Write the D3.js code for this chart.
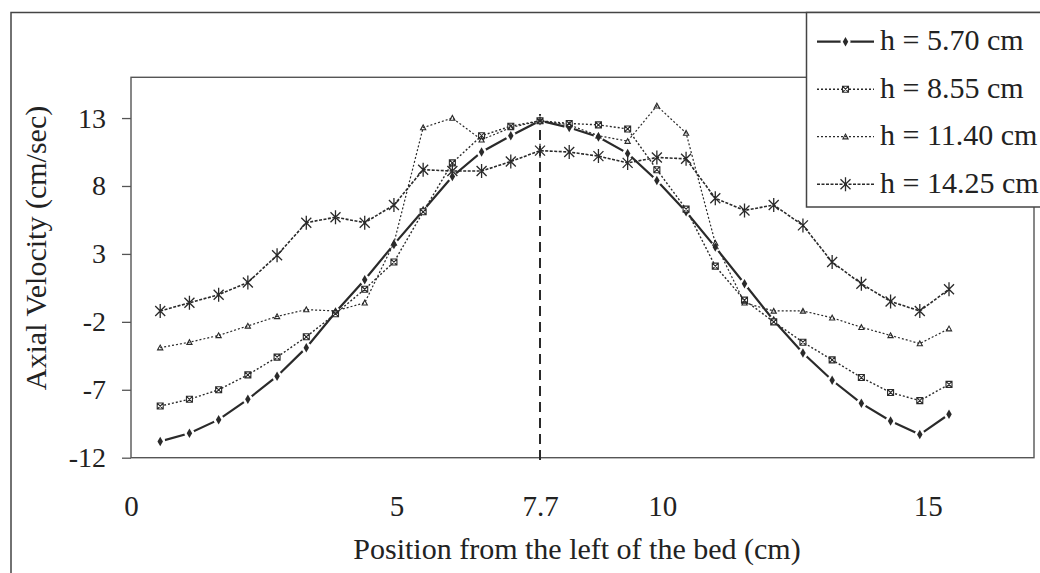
<!DOCTYPE html>
<html>
<head>
<meta charset="utf-8">
<script src="https://cdn.jsdelivr.net/npm/d3@7"></script>
<style>
  body { margin: 0; background: #fff; }
  svg text { font-family: "Liberation Serif", "Times New Roman", serif; fill: #222; }
</style>
</head>
<body>
<div id="chart"></div>
<script>
// positions across the bed (cm)
const positions = [0.55, 1.1, 1.65, 2.2, 2.75, 3.3, 3.85, 4.4, 4.95, 5.5, 6.05, 6.6, 7.15, 7.7,
                   8.25, 8.8, 9.35, 9.9, 10.45, 11, 11.55, 12.1, 12.65, 13.2, 13.75, 14.3, 14.85, 15.4];

// axial velocity (cm/sec) for each height
const h570 = [-10.8, -10.2, -9.2, -7.7, -6.0, -3.9, -1.3, 1.1, 3.7, 6.2, 8.7, 10.5, 11.7, 12.8,
              12.3, 11.6, 10.4, 8.4, 6.1, 3.5, 0.8, -1.9, -4.3, -6.3, -8.0, -9.3, -10.3, -8.8];
const h855 = [-8.2, -7.7, -7.0, -5.9, -4.6, -3.1, -1.4, 0.4, 2.4, 6.1, 9.7, 11.7, 12.4, 12.8,
              12.6, 12.5, 12.2, 9.2, 6.3, 2.1, -0.4, -2.0, -3.5, -4.8, -6.1, -7.2, -7.8, -6.6];
const h1140 = [-3.9, -3.5, -3.0, -2.3, -1.6, -1.1, -1.2, -0.6, 3.8, 12.3, 13.0, 11.4, 12.3, 12.8,
               12.5, 11.7, 11.3, 13.9, 11.9, 3.8, -0.6, -1.2, -1.2, -1.7, -2.4, -3.0, -3.6, -2.5];
const h1425 = [-1.2, -0.6, 0.0, 0.9, 2.9, 5.3, 5.7, 5.3, 6.6, 9.2, 9.1, 9.1, 9.8, 10.6,
               10.5, 10.2, 9.7, 10.1, 10.0, 7.1, 6.2, 6.6, 5.1, 2.4, 0.8, -0.5, -1.2, 0.4];

const seriesNames = ["h = 5.70 cm", "h = 8.55 cm", "h = 11.40 cm", "h = 14.25 cm"];
const seriesValues = [h570, h855, h1140, h1425];
const markerTypes = ["diamond", "boxX", "tri", "star"];

const yTicks = [-12, -7, -2, 3, 8, 13];
const xTicks = [0, 5, 7.7, 10, 15];
const centerLine = 7.7;

const width = 1040, height = 573;
const plotLeft = 131, plotRight = 1034, plotTop = 77.3, plotBottom = 457.7;
const ink = "#2a2a2a";

const svg = d3.select("#chart").append("svg")
    .attr("width", width)
    .attr("height", height);

const x = d3.scaleLinear().domain([0, 17]).range([plotLeft, plotRight]);
const y = d3.scaleLinear().domain([-12, 16]).range([plotBottom, plotTop]);

// outer chart border
svg.append("rect")
    .attr("x", 11).attr("y", 12.5)
    .attr("width", 1100).attr("height", 700)
    .attr("fill", "none").attr("stroke", "#444").attr("stroke-width", 1.5);

// plot frame
svg.append("rect")
    .attr("x", plotLeft).attr("y", plotTop)
    .attr("width", plotRight - plotLeft).attr("height", plotBottom - plotTop)
    .attr("fill", "none").attr("stroke", "#555").attr("stroke-width", 1.4);

// y axis
const yAxis = svg.append("g")
    .attr("transform", `translate(${plotLeft},0)`)
    .call(d3.axisLeft(y).tickValues(yTicks).tickSize(9).tickPadding(16).tickFormat(d => String(d)));
yAxis.select(".domain").remove();
yAxis.selectAll("line").attr("stroke", "#555").attr("stroke-width", 1.3);
yAxis.selectAll("text").style("font-size", "28px").attr("fill", "#222");

// x axis (labels only)
const xAxis = svg.append("g")
    .attr("transform", `translate(0,${plotBottom})`)
    .call(d3.axisBottom(x).tickValues(xTicks).tickSize(0).tickPadding(38).tickFormat(d => String(d)));
xAxis.select(".domain").remove();
xAxis.selectAll("text").style("font-size", "29px").attr("fill", "#222");

// axis titles
svg.append("text")
    .attr("x", 577).attr("y", 559)
    .attr("text-anchor", "middle")
    .style("font-size", "30px")
    .text("Position from the left of the bed (cm)");

svg.append("text")
    .attr("transform", "translate(46,248) rotate(-90)")
    .attr("text-anchor", "middle")
    .style("font-size", "30px")
    .text("Axial Velocity (cm/sec)");

// centre line at 7.7
svg.append("line")
    .attr("x1", x(centerLine)).attr("x2", x(centerLine))
    .attr("y1", y(13.3)).attr("y2", y(-12.3))
    .attr("stroke", ink).attr("stroke-width", 2)
    .attr("stroke-dasharray", "10,6");

const markerPath = {
    diamond: d3.symbol(d3.symbolDiamond, 26)(),
    boxX: "M-3,-3H3V3H-3Z M-3,-3L3,3 M3,-3L-3,3",
    tri: "M-2.6,2.2 L0,-2.6 L2.6,2.2 Z",
    star: "M-5,-5L5,5 M5,-5L-5,5 M0,-7V7"
};
const lineStyle = [
    {dash: null, w: 2.2},
    {dash: "2,2", w: 1.4},
    {dash: "2,2", w: 1.2},
    {dash: "3,1.5", w: 1.6}
];

function styleMarker(sel, type) {
    if (type === "diamond") {
        sel.attr("fill", ink).attr("stroke", "none");
    } else {
        sel.attr("fill", type === "boxX" ? "#fff" : "none")
            .attr("stroke", ink)
            .attr("stroke-width", type === "star" ? 1.3 : 1.1);
    }
}

const line = d3.line().x(d => x(d.x)).y(d => y(d.y));

seriesValues.forEach((vals, i) => {
    const pts = vals.map((v, j) => ({x: positions[j], y: v}));
    const g = svg.append("g");
    g.append("path")
        .datum(pts)
        .attr("d", line)
        .attr("fill", "none")
        .attr("stroke", ink)
        .attr("stroke-width", lineStyle[i].w)
        .attr("stroke-dasharray", lineStyle[i].dash);
    if (markerTypes[i] === "diamond") {
        // small gaps in the solid line around each point
        g.selectAll("circle.gap")
            .data(pts)
            .join("circle")
            .attr("cx", d => x(d.x)).attr("cy", d => y(d.y))
            .attr("r", 5).attr("fill", "#fff");
    }
    g.selectAll("path.mk")
        .data(pts)
        .join("path")
        .attr("class", "mk")
        .attr("transform", d => `translate(${x(d.x)},${y(d.y)})`)
        .attr("d", markerPath[markerTypes[i]])
        .call(styleMarker, markerTypes[i]);
});

// legend
const legend = svg.append("g");
legend.append("rect")
    .attr("x", 806.5).attr("y", 12.5)
    .attr("width", 300).attr("height", 194.5)
    .attr("fill", "#fff").attr("stroke", "#444").attr("stroke-width", 1.5);

seriesNames.forEach((name, i) => {
    const ly = 41.7 + i * 47.5;
    const row = legend.append("g");
    row.append("line")
        .attr("x1", 817).attr("x2", 874)
        .attr("y1", ly).attr("y2", ly)
        .attr("stroke", ink)
        .attr("stroke-width", lineStyle[i].w)
        .attr("stroke-dasharray", lineStyle[i].dash);
    if (markerTypes[i] === "diamond") {
        row.append("circle").attr("cx", 845.5).attr("cy", ly).attr("r", 5).attr("fill", "#fff");
    }
    row.append("path")
        .attr("transform", `translate(845.5,${ly})`)
        .attr("d", markerPath[markerTypes[i]])
        .call(styleMarker, markerTypes[i]);
    row.append("text")
        .attr("x", 880).attr("y", ly + 8.5)
        .style("font-size", "30px")
        .text(name);
});
</script>
</body>
</html>
